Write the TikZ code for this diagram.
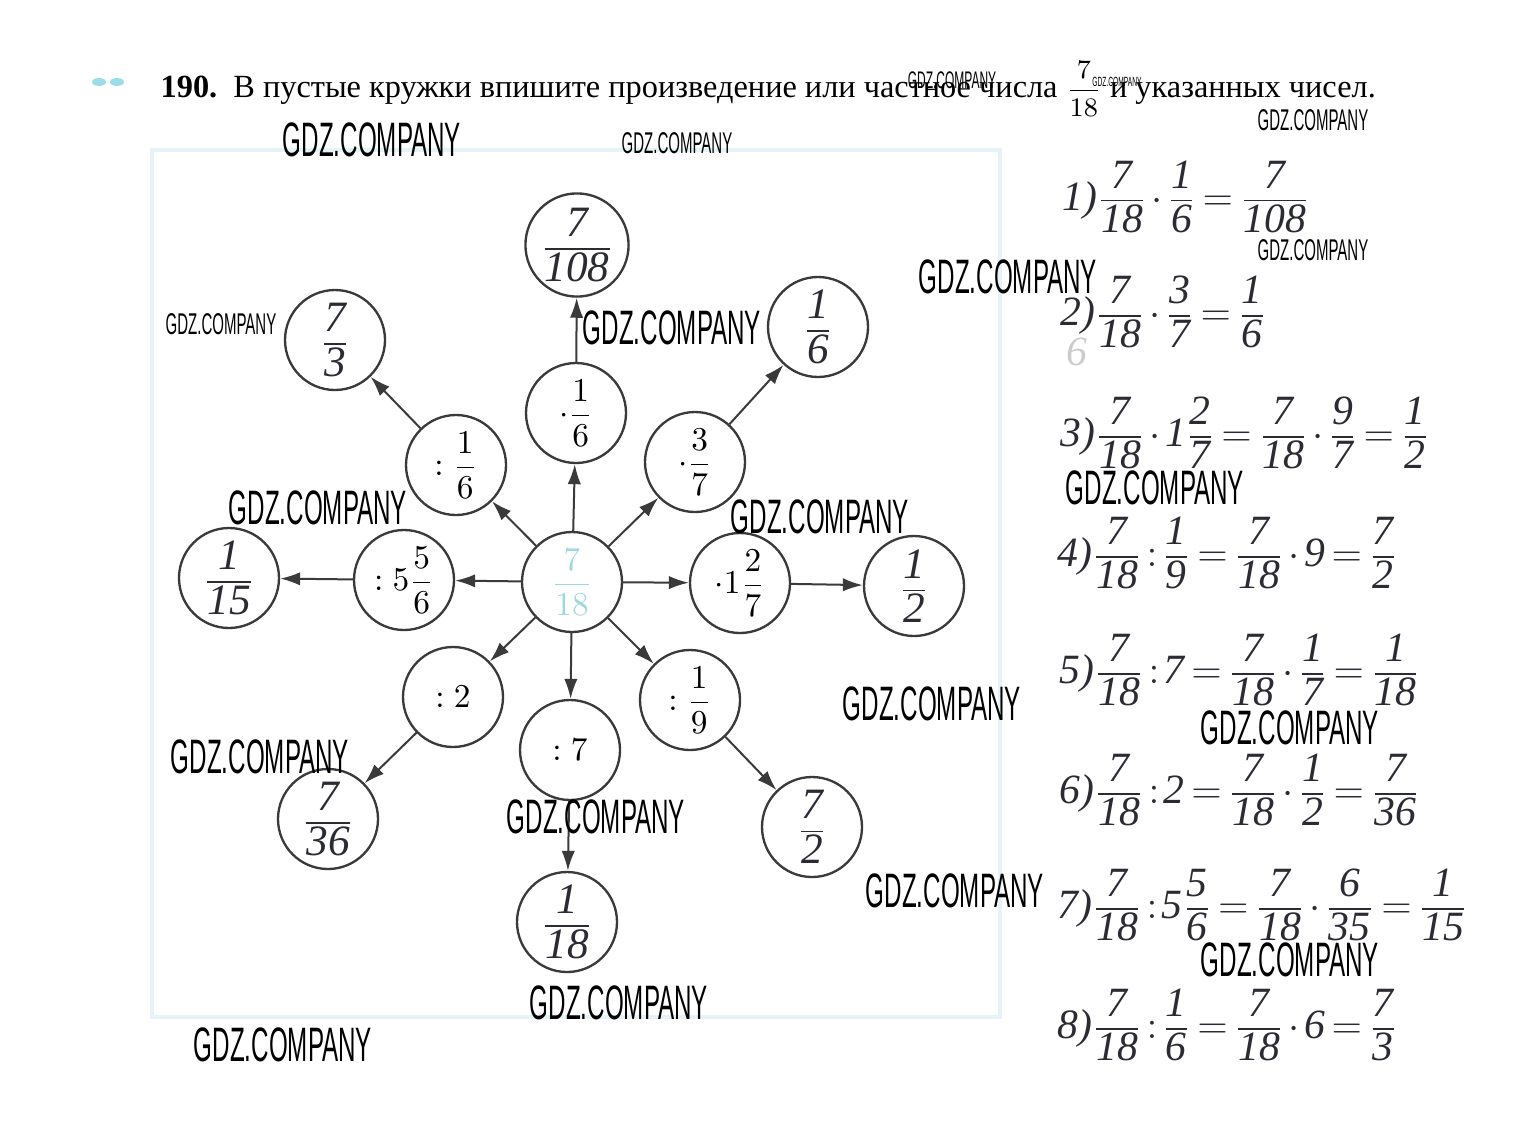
\documentclass[tikz,border=0pt]{standalone}
\usepackage{fontspec}
\usepackage{amsmath}
\usepackage{graphicx}
\usepackage{tikz}
\usetikzlibrary{arrows.meta}
\setmainfont{Liberation Serif}
\newfontfamily\wmfont{Liberation Sans}
\newfontfamily\handfont{Liberation Serif}

\definecolor{ink}{HTML}{3A3A3A}
\definecolor{pen}{HTML}{2B2B33}
\definecolor{centre}{HTML}{9FD8DC}
\definecolor{framec}{HTML}{E6F3F6}
\definecolor{dotc}{HTML}{9ADCE8}

\newcommand\hand[1]{\handfont\itshape\fontsize{#1}{#1}\selectfont}
\newcommand\hfr[2]{\tfrac{\raisebox{2pt}{#1}}{\raisebox{-2.5pt}{#2}}}
\newcommand\hf[2]{$\hfr{#1}{#2}$}
\newcommand\eqline[1]{$\medmuskip=2mu\thickmuskip=3mu #1$}
\newcommand\wm[1]{\scalebox{0.5}[1]{\wmfont\fontsize{#1}{#1}\selectfont GDZ.COMPANY}}

\begin{document}
\begin{tikzpicture}[x=0.3pt, y=-0.3pt,
  ring/.style={circle, draw=ink, line width=0.7pt, minimum size=30pt, inner sep=0pt},
  opnode/.style={ring, font=\fontsize{10}{12}\selectfont},
  resnode/.style={ring, text=pen, font=\hand{13}},
  arr/.style={draw=ink, line width=0.6pt, -{Latex[length=6pt,width=4pt]}},
  eqn/.style={anchor=west, inner sep=0pt, text=pen, font=\hand{12.5}},
  wmark/.style={inner sep=0pt, text=black}]

\useasboundingbox (0,0) rectangle (1526,1136);

% faint frame of the exercise
\draw[framec, line width=1pt] (152,150) rectangle (1000,1017);

% heading
\fill[dotc] (99,82) ellipse [x radius=7, y radius=4];
\fill[dotc] (117,82) ellipse [x radius=7, y radius=4];
\node[anchor=base west, inner sep=0pt, font=\fontsize{9.7}{12}\selectfont] (head) at (160,97)
  {\textbf{190.}\enspace В пустые кружки впишите произведение или частное числа
   {\fontsize{8}{9}\selectfont$\dfrac{7}{18}$} и указанных чисел.};

% the star
\node[ring, text=centre] (c) at (572,582) {$\dfrac{7}{18}$};

\foreach \nm/\ix/\iy/\ox/\oy/\op/\res in {
  n/576/413/577/245/{$\cdot\dfrac16$}/{\hf{7}{108}},
  ne/695/462/818/327/{$\cdot\dfrac37$}/{\hf{1}{6}},
  e/740/583/914/586/{$\cdot1\dfrac27$}/{\hf{1}{2}},
  se/690/700/812/827/{$:\dfrac19$}/{\hf{7}{2}},
  s/570/750/567/922/{$:7$}/{\hf{1}{18}},
  sw/453/697/328/819/{$:2$}/{\hf{7}{36}},
  w/404/580/229/578/{$:5\dfrac56$}/{\hf{1}{15}},
  nw/456/465/335/340/{$:\dfrac16$}/{\hf{7}{3}}} {
    \node[opnode] (op\nm) at (\ix,\iy) {\op};
    \node[resnode] (res\nm) at (\ox,\oy) {\res};
    \draw[arr] (c) -- (op\nm);
    \draw[arr] (op\nm) -- (res\nm);
}

% handwritten working
\node[eqn] (eq1) at (1062,197) {\eqline{\mbox{1)}\hfr{7}{18}\cdot\hfr{1}{6}=\hfr{7}{108}}};
\node[eqn] (eq2) at (1060,312) {\eqline{\mbox{2)}\hfr{7}{18}\cdot\hfr{3}{7}=\hfr{1}{6}}};
\node[eqn, text=black!20] (ghost) at (1066,352) {6};
\node[eqn] (eq3) at (1060,433) {\eqline{\mbox{3)}\hfr{7}{18}\cdot\mbox{1}\hfr{2}{7}=\hfr{7}{18}\cdot\hfr{9}{7}=\hfr{1}{2}}};
\node[eqn] (eq4) at (1057,553) {\eqline{\mbox{4)}\hfr{7}{18}\mathbin{:}\hfr{1}{9}=\hfr{7}{18}\cdot\mbox{9}=\hfr{7}{2}}};
\node[eqn] (eq5) at (1059,670) {\eqline{\mbox{5)}\hfr{7}{18}\mathbin{:}\mbox{7}=\hfr{7}{18}\cdot\hfr{1}{7}=\hfr{1}{18}}};
\node[eqn] (eq6) at (1059,790) {\eqline{\mbox{6)}\hfr{7}{18}\mathbin{:}\mbox{2}=\hfr{7}{18}\cdot\hfr{1}{2}=\hfr{7}{36}}};
\node[eqn] (eq7) at (1057,905) {\eqline{\mbox{7)}\hfr{7}{18}\mathbin{:}\mbox{5}\hfr{5}{6}=\hfr{7}{18}\cdot\hfr{6}{35}=\hfr{1}{15}}};
\node[eqn] (eq8) at (1057,1025) {\eqline{\mbox{8)}\hfr{7}{18}\mathbin{:}\hfr{1}{6}=\hfr{7}{18}\cdot\mbox{6}=\hfr{7}{3}}};

% watermarks
\foreach \x/\y/\s [count=\i] in {
  372/140/14.5, 677/143/9, 952/80/7.2, 1117/82/4, 1313/120/9,
  1313/250/9, 1008/277/14.5, 672/328/14.5, 221/324/9, 318/508/14.5,
  820/517/14.5, 1155/488/14.5, 932/704/14.5, 1290/728/14.5, 260/757/14.5,
  596/817/14.5, 955/891/14.5, 1290/960/14.5, 619/1003/14.5, 283/1045/14.5} {
    \node[wmark] (wm\i) at (\x,\y) {\wm{\s}};
}

\end{tikzpicture}
\end{document}
